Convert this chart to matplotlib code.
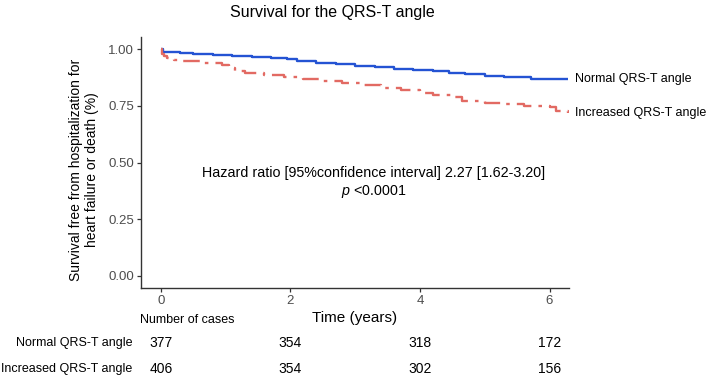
import matplotlib
matplotlib.use("Agg")
import matplotlib.pyplot as plt
import matplotlib.transforms as mtransforms

plt.rcParams['font.family'] = ['Liberation Sans', 'DejaVu Sans']
plt.rcParams['mathtext.fontset'] = 'custom'
plt.rcParams['mathtext.rm'] = 'Liberation Sans'
plt.rcParams['mathtext.it'] = 'Liberation Sans:italic'

# ---- data ----
groups = ["Normal QRS-T angle", "Increased QRS-T angle"]
normal_t = [0, 0.03, 0.1, 0.3, 0.5, 0.8, 1.1, 1.4, 1.7, 1.95, 2.1, 2.4, 2.7, 3.0,
            3.3, 3.6, 3.9, 4.2, 4.45, 4.7, 5.0, 5.3, 5.72, 6.28]
normal_s = [1.0, 0.990, 0.987, 0.983, 0.979, 0.975, 0.970, 0.966, 0.962, 0.958,
            0.947, 0.942, 0.935, 0.928, 0.921, 0.915, 0.908, 0.904, 0.896, 0.892,
            0.884, 0.880, 0.870, 0.868]
increased_t = [0, 0.02, 0.05, 0.1, 0.2, 0.35, 0.6, 0.95, 1.05, 1.15, 1.3, 1.6, 1.9,
               2.2, 2.5, 2.8, 3.1, 3.4, 3.7, 4.0, 4.2, 4.5, 4.65, 5.0, 5.3, 5.6,
               6.0, 6.1, 6.28]
increased_s = [1.0, 0.980, 0.970, 0.962, 0.955, 0.948, 0.942, 0.930, 0.918, 0.905,
               0.896, 0.887, 0.878, 0.870, 0.861, 0.852, 0.842, 0.830, 0.820, 0.808,
               0.800, 0.790, 0.774, 0.765, 0.758, 0.750, 0.745, 0.726, 0.718]
x_ticks = [0, 2, 4, 6]
y_ticks = [0.00, 0.25, 0.50, 0.75, 1.00]
risk_normal = [377, 354, 318, 172]
risk_increased = [406, 354, 302, 156]
hr_text = "Hazard ratio [95%confidence interval] 2.27 [1.62-3.20]"
p_text = "$p$ <0.0001"

# ---- figure ----
W, H = 708, 378
fig = plt.figure(figsize=(W / 100, H / 100), dpi=100)
ax = fig.add_axes([140.7 / W, 1 - 288 / H, (569 - 140.7) / W, (288 - 36.7) / H])

blue = "#2453D3"
red = "#E26A63"
ax.plot(normal_t, normal_s, drawstyle='steps-post', color=blue, lw=1.7,
        solid_capstyle='butt')
ax.plot(increased_t, increased_s, drawstyle='steps-post', color=red, lw=1.7,
        dashes=(7, 3, 1.5, 3))

ax.set_xlim(-0.31, 6.3)
ax.set_ylim(-0.054, 1.056)
ax.set_xticks(x_ticks)
ax.set_xticklabels([str(v) for v in x_ticks])
ax.set_yticks(y_ticks)
ax.set_yticklabels([f"{v:.2f}" for v in y_ticks])
for s in ['top', 'right']:
    ax.spines[s].set_visible(False)
for s in ['left', 'bottom']:
    ax.spines[s].set_color('#333333')
    ax.spines[s].set_linewidth(1.0)
ax.tick_params(axis='both', colors='#333333', length=3, width=0.9,
               labelsize=9.5, labelcolor='#4D4D4D', pad=2)

ax.set_xlabel("Time (years)", fontsize=11, color='black', labelpad=3)

fig.text(84 / W, 1 - 170 / H,
         "Survival free from hospitalization for\nheart failure or death (%)",
         rotation=90, ha='center', va='center', fontsize=10, linespacing=1.2,
         multialignment='center')

fig.text(332 / W, 1 - 12 / H, "Survival for the QRS-T angle", ha='center',
         va='center', fontsize=11.5)

ax.text(3.29, 0.454, hr_text, ha='center', va='center', fontsize=10.3)
ax.text(3.29, 0.374, p_text, ha='center', va='center', fontsize=10.3)

# end labels
tr_end = mtransforms.blended_transform_factory(fig.transFigure, ax.transData)
ax.text(575 / W, normal_s[-1], groups[0], transform=tr_end, ha='left',
        va='center', fontsize=9)
ax.text(575 / W, increased_s[-1], groups[1], transform=tr_end, ha='left',
        va='center', fontsize=9)

# risk table
tr_tab = mtransforms.blended_transform_factory(ax.transData, fig.transFigure)
fig.text(140 / W, 1 - 320 / H, "Number of cases", ha='left', va='center',
         fontsize=9)
row_y = [1 - 343 / H, 1 - 369 / H]
for yy, name, vals in zip(row_y, groups, [risk_normal, risk_increased]):
    fig.text(132 / W, yy, name, ha='right', va='center', fontsize=9)
    for xt, v in zip(x_ticks, vals):
        ax.text(xt, yy, str(v), transform=tr_tab, ha='center', va='center',
                fontsize=10)

fig.savefig("out.png", dpi=100)
